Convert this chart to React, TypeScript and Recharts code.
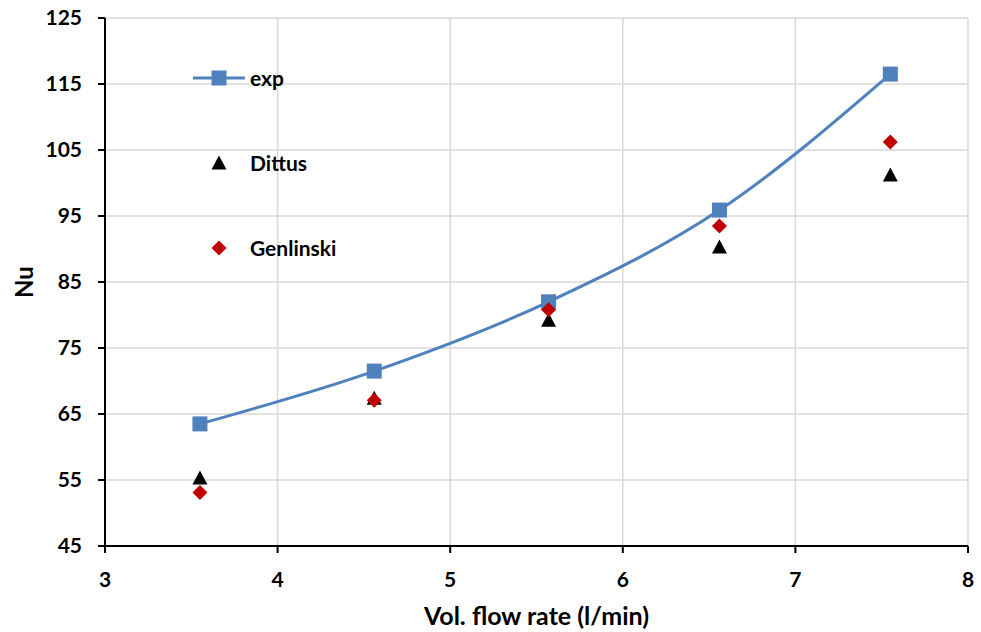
import { ComposedChart, Line, Scatter, XAxis, YAxis, CartesianGrid } from 'recharts';

// volumetric flow rate (l/min) and Nusselt numbers
const flowRate = [3.55, 4.56, 5.57, 6.56, 7.55];
const expNu = [63.5, 71.5, 82.0, 95.9, 116.5];
const dittusNu = [55.3, 67.4, 79.2, 90.3, 101.2];
const genlinskiNu = [53.1, 67.1, 80.8, 93.5, 106.2];

const xTicks = [3, 4, 5, 6, 7, 8];
const yTicks = [45, 55, 65, 75, 85, 95, 105, 115, 125];

const rows = flowRate.map((flow, i) => ({
  flow,
  exp: expNu[i],
  dittus: dittusNu[i],
  genlinski: genlinskiNu[i],
}));

const BLUE = '#4f81bd';
const RED = '#c00000';
const FONT = 'Lato, "Open Sans", sans-serif';

type ShapeProps = { cx?: number; cy?: number };

const SquareDot = ({ cx = 0, cy = 0 }: ShapeProps) => (
  <rect x={cx - 7.5} y={cy - 7.5} width={15} height={15} fill={BLUE} />
);

const Triangle = ({ cx = 0, cy = 0 }: ShapeProps) => (
  <path d={`M${cx},${cy - 7.5}L${cx + 7.5},${cy + 6.5}L${cx - 7.5},${cy + 6.5}Z`} fill="#000" />
);

const Diamond = ({ cx = 0, cy = 0 }: ShapeProps) => (
  <path d={`M${cx},${cy - 7.5}L${cx + 7.5},${cy}L${cx},${cy + 7.5}L${cx - 7.5},${cy}Z`} fill={RED} />
);

const legendItems = [
  { name: 'exp', marker: 'line' },
  { name: 'Dittus', marker: 'triangle' },
  { name: 'Genlinski', marker: 'diamond' },
];

// legend box sits inside the plot, upper left
function LegendOverlay() {
  return (
    <svg
      width={981}
      height={632}
      style={{ position: 'absolute', left: 0, top: 0, pointerEvents: 'none' }}
    >
      {legendItems.map((item, i) => {
        const y = 78 + i * 85;
        return (
          <g key={item.name}>
            {item.marker === 'line' && (
              <>
                <line x1={193} x2={245} y1={y} y2={y} stroke={BLUE} strokeWidth={3} />
                <SquareDot cx={219} cy={y} />
              </>
            )}
            {item.marker === 'triangle' && <Triangle cx={219} cy={y} />}
            {item.marker === 'diamond' && <Diamond cx={219} cy={y} />}
            <text x={250} y={y} dy="0.36em" fontSize={21} fontWeight="bold" fill="#000" fontFamily={FONT}>
              {item.name}
            </text>
          </g>
        );
      })}
    </svg>
  );
}

const renderYLabel = (props: any) => {
  const vb = props.viewBox || {};
  const cy = (vb.y ?? 18) + (vb.height ?? 528) / 2;
  return (
    <text
      x={23}
      y={cy}
      transform={`rotate(-90, 23, ${cy})`}
      textAnchor="middle"
      dominantBaseline="central"
      fontSize={24}
      fontWeight="bold"
      fill="#000"
      fontFamily={FONT}
    >
      Nu
    </text>
  );
};

export default function App() {
  return (
    <div style={{ position: 'absolute', left: 0, top: 0, width: 981, height: 632, background: '#fff' }}>
      <ComposedChart
        width={981}
        height={632}
        data={rows}
        margin={{ top: 18, right: 13, left: 0, bottom: 0 }}
        style={{ fontFamily: FONT }}
      >
        <CartesianGrid stroke="#d9d9d9" strokeWidth={1.5} />
        <XAxis
          dataKey="flow"
          type="number"
          domain={[3, 8]}
          ticks={xTicks}
          height={86}
          tickSize={7}
          tickMargin={19}
          axisLine={{ stroke: '#000', strokeWidth: 2 }}
          tickLine={{ stroke: '#000', strokeWidth: 2 }}
          tick={{ fill: '#000', fontSize: 21, fontWeight: 'bold' }}
          label={{ value: 'Vol. flow rate (l/min)', position: 'insideBottom', offset: 7, fill: '#000', fontSize: 25, fontWeight: 'bold' }}
        />
        <YAxis
          type="number"
          domain={[45, 125]}
          ticks={yTicks}
          width={105}
          tickSize={7}
          tickMargin={16}
          axisLine={{ stroke: '#000', strokeWidth: 2 }}
          tickLine={{ stroke: '#000', strokeWidth: 2 }}
          tick={{ fill: '#000', fontSize: 21, fontWeight: 'bold' }}
          label={renderYLabel}
        />
        <Line
          dataKey="exp"
          name="exp"
          type="monotone"
          stroke={BLUE}
          strokeWidth={3}
          dot={<SquareDot />}
          activeDot={false}
          isAnimationActive={false}
        />
        <Scatter dataKey="dittus" name="Dittus" shape={<Triangle />} isAnimationActive={false} />
        <Scatter dataKey="genlinski" name="Genlinski" shape={<Diamond />} isAnimationActive={false} />
      </ComposedChart>
      <LegendOverlay />
    </div>
  );
}
